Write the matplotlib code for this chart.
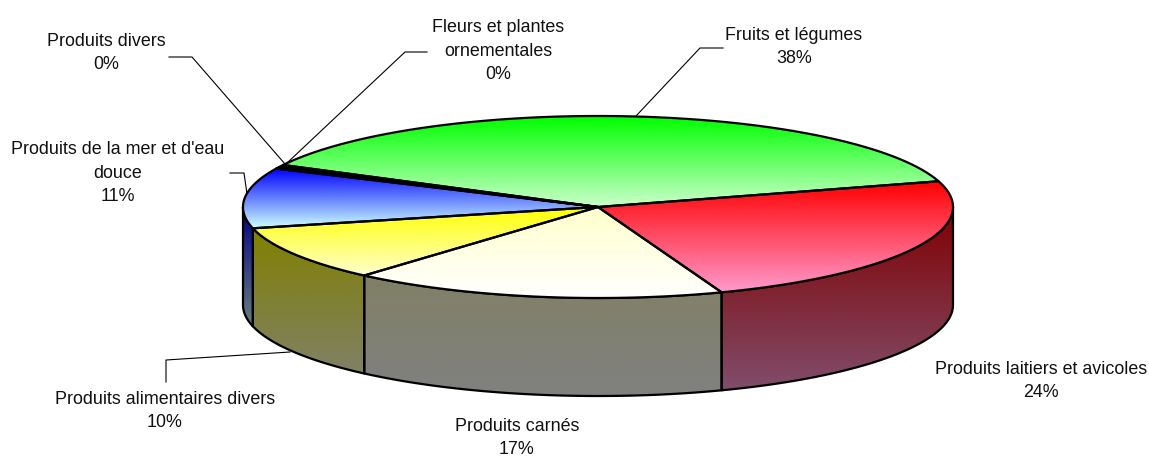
import numpy as np
import matplotlib
matplotlib.use("Agg")
import matplotlib.pyplot as plt
from matplotlib.patches import Polygon

plt.rcParams["font.family"] = ["Liberation Sans", "DejaVu Sans"]

# Slices, clockwise from the start angle
categories = ["Fruits et légumes", "Produits laitiers et avicoles", "Produits carnés",
              "Produits alimentaires divers", "Produits de la mer et d'eau\ndouce",
              "Produits divers", "Fleurs et plantes\nornementales"]
values = [37.8, 23.9, 17.1, 9.8, 10.7, 0.3, 0.4]

top_colors = [("#00ff00", "#ccffcc"), ("#ff0000", "#ff99cc"), ("#ffffcc", "#ffffff"),
              ("#ffff00", "#ffffcc"), ("#0000ff", "#ccffff"), ("#330066", "#330066"),
              ("#000000", "#000000")]
side_colors = [None, ("#800000", "#804d6b"), ("#808066", "#808080"),
               ("#808000", "#808066"), ("#000080", "#668080"), None, None]

label_pos = [(794, 47), (1041, 381), (517, 438), (165, 411), (118, 173), (106, 53), (498, 51)]
leaders = [[(723, 48), (700, 48), (636, 116)],
           [],
           [],
           [(290, 352), (166, 360), (166, 382)],
           [(230, 173), (244, 173), (247, 194)],
           [(169, 57), (192, 57), (285, 164)],
           [(427, 52), (405, 52), (287, 163)]]

CX, CY = 598, 207
RX, RY = 355, 91
DEPTH = 98
START = 152.5


def ellipse_pts(a0, a1, dy=0):
    n = max(2, int(abs(a1 - a0) * 2))
    t = np.radians(np.linspace(a0, a1, n))
    return np.column_stack([CX + RX * np.cos(t), CY - RY * np.sin(t) + dy])


def gradient_fill(ax, pts, c0, c1, zorder):
    # vertical gradient clipped to the polygon
    rgb0 = np.array(matplotlib.colors.to_rgb(c0))
    rgb1 = np.array(matplotlib.colors.to_rgb(c1))
    ramp = np.linspace(0, 1, 128)[:, None]
    img = (rgb0 + (rgb1 - rgb0) * ramp)[:, None, :]
    y0, y1 = pts[:, 1].min(), pts[:, 1].max()
    x0, x1 = pts[:, 0].min(), pts[:, 0].max()
    im = ax.imshow(img, extent=(x0, x1, y1, y0), aspect="auto", zorder=zorder,
                   interpolation="bilinear")
    outline = Polygon(pts, closed=True, facecolor="none", edgecolor="black", lw=1.6,
                      joinstyle="round", zorder=zorder + 0.1)
    ax.add_patch(outline)
    im.set_clip_path(outline)


fig = plt.figure(figsize=(11.49, 4.59), dpi=100)
ax = fig.add_axes([0, 0, 1, 1])

sweeps = np.array(values) / np.sum(values) * 360
ends = START - np.cumsum(sweeps)
starts = ends + sweeps

# Side walls, only the part facing the viewer
for i, col in enumerate(side_colors):
    if col is None:
        continue
    a0 = min(starts[i], 0)
    a1 = max(ends[i], -180)
    if a0 <= a1:
        continue
    upper = ellipse_pts(a0, a1)
    lower = ellipse_pts(a1, a0, DEPTH)
    gradient_fill(ax, np.vstack([upper, lower]), col[0], col[1], 2)

# Top faces
for i, col in enumerate(top_colors):
    arc = ellipse_pts(starts[i], ends[i])
    gradient_fill(ax, np.vstack([[(CX, CY)], arc]), col[0], col[1], 3)

for name, val, pos, line in zip(categories, values, label_pos, leaders):
    pct = round(val / np.sum(values) * 100)
    ax.text(pos[0], pos[1], f"{name}\n{pct}%", ha="center", va="center", fontsize=12.9,
            linespacing=1.48, color="#111111", zorder=5)
    if line:
        ax.plot(*zip(*line), color="black", lw=0.8, zorder=1)

ax.set_xlim(0, 1149)
ax.set_ylim(459, 0)
ax.axis("off")
fig.savefig("out.png", dpi=100, facecolor="white")
